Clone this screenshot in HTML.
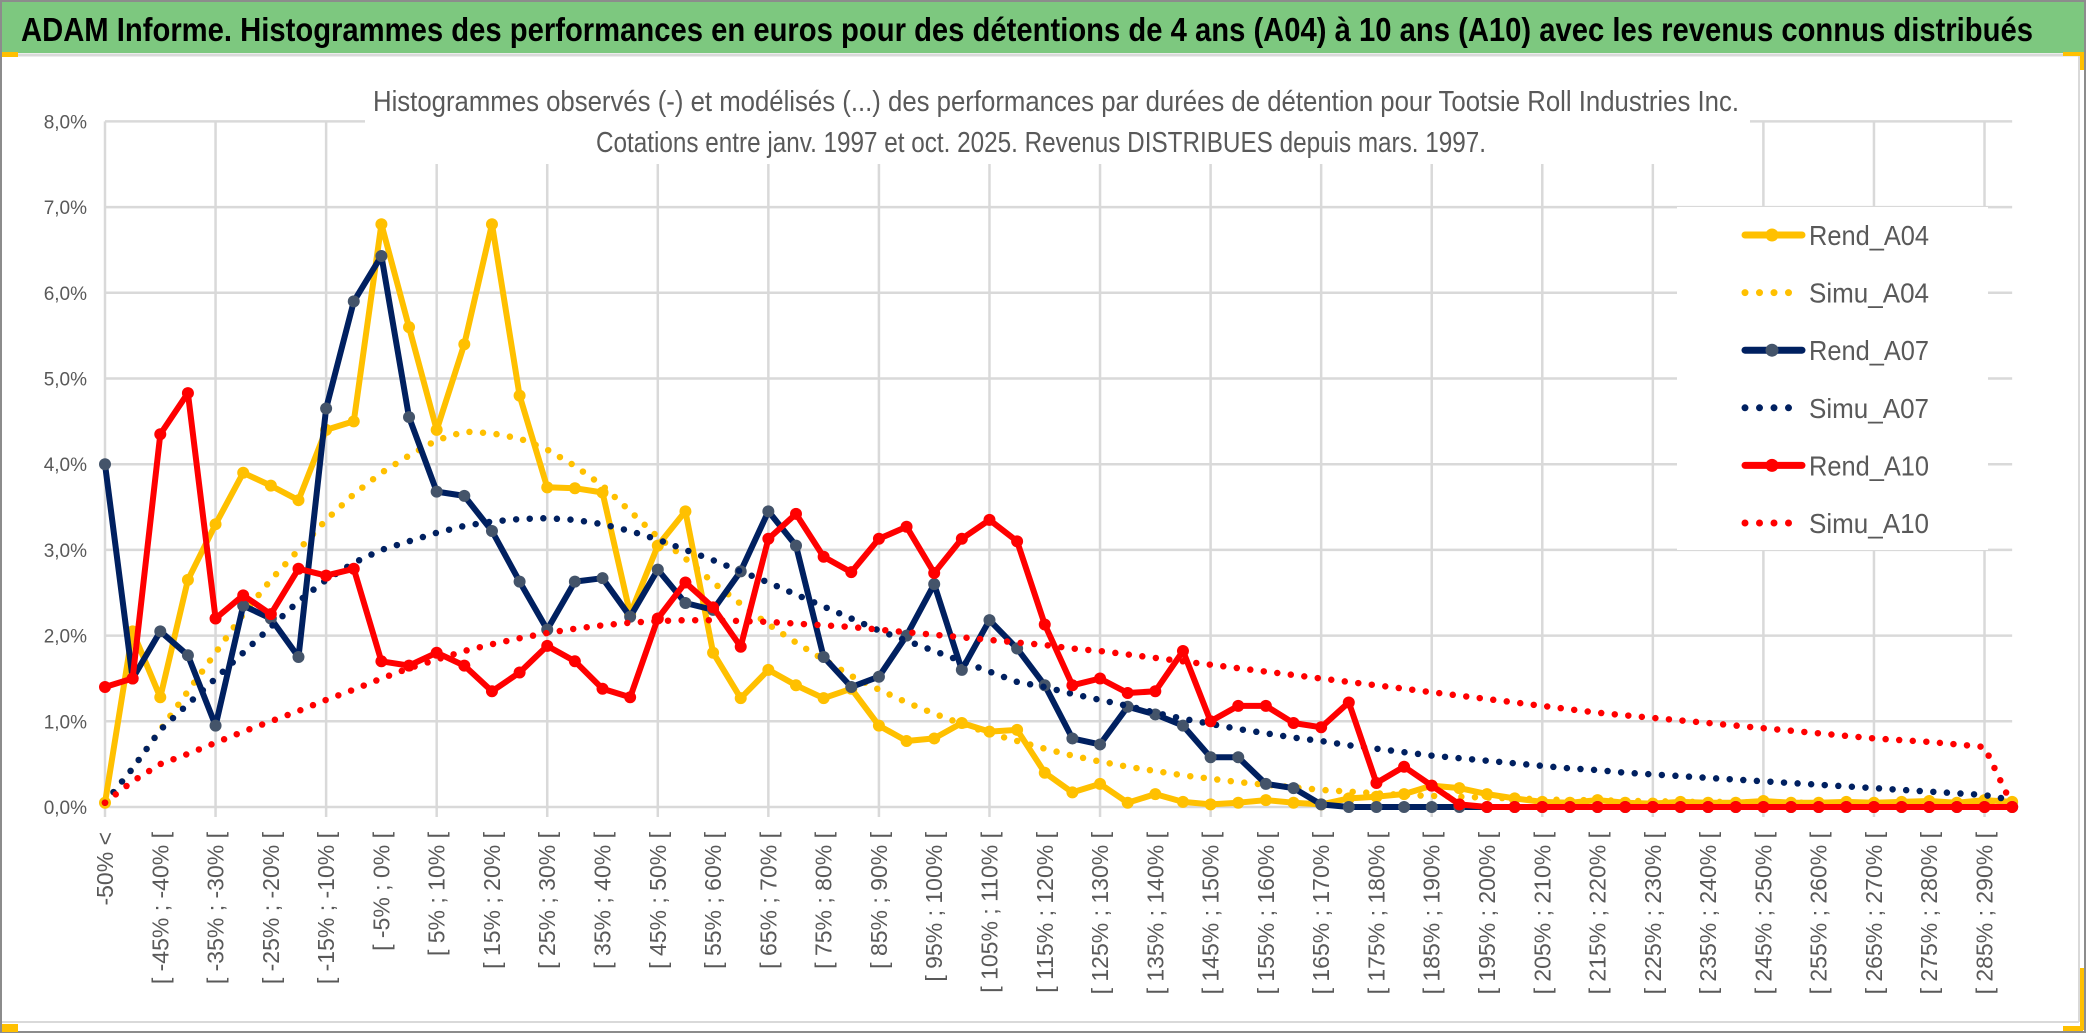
<!DOCTYPE html>
<html><head><meta charset="utf-8"><style>
html,body{margin:0;padding:0;background:#fff;}
svg{display:block;}
</style></head><body>
<svg id="chart" width="2086" height="1033" viewBox="0 0 2086 1033" xmlns="http://www.w3.org/2000/svg" font-family="'Liberation Sans', sans-serif">
<rect x="0" y="0" width="2086" height="1033" fill="#fff"/>
<rect x="1" y="1" width="2084" height="1031" fill="none" stroke="#8c8c8c" stroke-width="2"/>
<rect x="2" y="2" width="2082" height="51" fill="#7dc87f"/>
<line x1="2" y1="55" x2="2080" y2="55" stroke="#d9d9d9" stroke-width="3"/>
<rect x="2" y="52" width="16" height="5" fill="#ffc000"/>
<rect x="2063" y="52" width="20" height="4" fill="#ffc000"/>
<rect x="2080" y="52" width="4" height="18" fill="#ffc000"/>
<rect x="2" y="1024" width="16" height="8" fill="#ffc000"/>
<rect x="2063" y="1026" width="20" height="5" fill="#ffc000"/>
<rect x="2080" y="968" width="4" height="62" fill="#ffc000"/>
<line x1="2079" y1="56" x2="2079" y2="1022" stroke="#d9d9d9" stroke-width="2"/>
<line x1="2" y1="1022" x2="2079" y2="1022" stroke="#d9d9d9" stroke-width="2"/>
<text x="21" y="41" font-size="33" font-weight="bold" fill="#000" textLength="2012" lengthAdjust="spacingAndGlyphs">ADAM Informe. Histogrammes des performances en euros pour des détentions de 4 ans (A04) à 10 ans (A10) avec les revenus connus distribués</text>
<g id="grid"></g>
<rect x="365" y="62" width="1385" height="102" fill="#fff"/>
<text x="373" y="111" font-size="29" fill="#595959" textLength="1366" lengthAdjust="spacingAndGlyphs">Histogrammes observés (-) et modélisés (...) des performances par durées de détention pour Tootsie Roll Industries Inc.</text>
<text x="596" y="152" font-size="29" fill="#595959" textLength="890" lengthAdjust="spacingAndGlyphs">Cotations entre janv. 1997 et oct. 2025. Revenus DISTRIBUES depuis mars. 1997.</text>
<g id="yaxis"></g>
<g id="xaxis"></g>
<g id="series"></g>
<g id="legend"></g>
</svg>
<script>
const categories = ["-50% <"];
for (let i = 1; i < 69; i++) { const a = -55 + 5 * i; categories.push("[ " + a + "% ; " + (a + 5) + "% ["); }
categories.push(">= 290%");
const yTicks = ["0,0%","1,0%","2,0%","3,0%","4,0%","5,0%","6,0%","7,0%","8,0%"];
const rendA04 = [0.05,2.05,1.28,2.65,3.3,3.9,3.75,3.58,4.4,4.5,6.8,5.6,4.4,5.4,6.8,4.8,3.73,3.72,3.67,2.25,3.05,3.45,1.8,1.27,1.6,1.42,1.27,1.38,0.95,0.77,0.8,0.98,0.88,0.9,0.4,0.17,0.27,0.05,0.15,0.06,0.03,0.05,0.08,0.05,0.03,0.1,0.12,0.15,0.25,0.22,0.15,0.1,0.06,0.05,0.08,0.05,0.04,0.06,0.05,0.05,0.07,0.05,0.05,0.06,0.05,0.06,0.07,0.05,0.08,0.06];
const simuA04 = [0.05,0.45,0.9,1.35,1.8,2.25,2.65,3.0,3.35,3.65,3.9,4.1,4.28,4.38,4.36,4.3,4.17,3.98,3.75,3.45,3.15,2.9,2.62,2.37,2.13,1.92,1.72,1.53,1.37,1.22,1.09,0.97,0.86,0.77,0.68,0.6,0.53,0.47,0.42,0.37,0.33,0.29,0.26,0.23,0.2,0.18,0.16,0.14,0.13,0.12,0.11,0.1,0.09,0.08,0.08,0.07,0.07,0.06,0.06,0.06,0.05,0.05,0.05,0.05,0.05,0.05,0.05,0.05,0.05,0.05];
const rendA07 = [4.0,1.5,2.05,1.77,0.95,2.35,2.2,1.75,4.65,5.9,6.43,4.55,3.68,3.63,3.22,2.63,2.07,2.63,2.67,2.22,2.77,2.38,2.3,2.75,3.45,3.05,1.75,1.4,1.52,2.0,2.6,1.6,2.18,1.85,1.42,0.8,0.73,1.17,1.08,0.95,0.58,0.58,0.27,0.22,0.03,0,0,0,0,0,0,0,0,0,0,0,0,0,0,0,0,0,0,0,0,0,0,0,0,0];
const simuA07 = [0.05,0.45,0.9,1.2,1.5,1.8,2.1,2.4,2.65,2.85,3.0,3.1,3.2,3.28,3.33,3.36,3.37,3.35,3.3,3.22,3.12,3.0,2.88,2.75,2.62,2.48,2.34,2.2,2.06,1.94,1.82,1.7,1.58,1.46,1.4,1.32,1.25,1.18,1.1,1.03,0.97,0.91,0.86,0.81,0.77,0.72,0.68,0.64,0.6,0.57,0.54,0.51,0.48,0.45,0.43,0.4,0.38,0.36,0.34,0.32,0.3,0.28,0.26,0.24,0.22,0.2,0.18,0.16,0.14,0.08];
const rendA10 = [1.4,1.5,4.35,4.83,2.2,2.47,2.25,2.78,2.7,2.78,1.7,1.65,1.8,1.65,1.35,1.57,1.88,1.7,1.38,1.28,2.2,2.62,2.33,1.87,3.13,3.42,2.92,2.74,3.13,3.27,2.73,3.13,3.35,3.1,2.13,1.42,1.5,1.33,1.35,1.82,1.0,1.18,1.18,0.98,0.93,1.22,0.28,0.47,0.25,0.03,0,0,0,0,0,0,0,0,0,0,0,0,0,0,0,0,0,0,0,0];
const simuA10 = [0.05,0.3,0.5,0.62,0.75,0.88,1.0,1.12,1.25,1.37,1.5,1.62,1.72,1.82,1.9,1.97,2.03,2.08,2.12,2.15,2.17,2.18,2.18,2.17,2.16,2.14,2.12,2.1,2.07,2.04,2.01,1.98,1.95,1.92,1.89,1.85,1.82,1.78,1.74,1.7,1.66,1.62,1.58,1.54,1.5,1.46,1.42,1.38,1.34,1.3,1.26,1.22,1.18,1.14,1.1,1.07,1.04,1.01,0.98,0.95,0.92,0.89,0.86,0.83,0.8,0.78,0.76,0.73,0.7,0.02];

const NS = "http://www.w3.org/2000/svg";
const X0 = 105, DX = 27.64, Y0 = 807, DY = 85.7;
function xs(i){ return X0 + i * DX; }
function ys(v){ return Y0 - v * DY; }
function mk(tag, attrs, parent){ const e = document.createElementNS(NS, tag); for (const k in attrs) e.setAttribute(k, attrs[k]); parent.appendChild(e); return e; }

const grid = document.getElementById('grid');
const xEnd = xs(categories.length - 1);
for (let t = 0; t < yTicks.length; t++) {
  const l = mk('line', {x1: X0, x2: xEnd, y1: ys(t), y2: ys(t), stroke: '#d9d9d9', 'stroke-width': 2.5}, grid);
  
  
}
for (let i = 0; i < categories.length; i += 4) {
  const l = mk('line', {x1: xs(i), x2: xs(i), y1: ys(8), y2: Y0 + 10, stroke: '#d9d9d9', 'stroke-width': 2.5}, grid);
  
  
}
const yaxis = document.getElementById('yaxis');
for (let t = 0; t < yTicks.length; t++) {
  const tx = mk('text', {x: 87, y: ys(t) + 7, 'font-size': 19, fill: '#595959', 'text-anchor': 'end'}, yaxis);
  tx.textContent = yTicks[t];
  
  
}
const xaxis = document.getElementById('xaxis');
for (let i = 0; i < categories.length - 1; i += 2) {
  const cx = xs(i) + 8, cy = 832;
  const tx = mk('text', {x: cx, y: cy, 'font-size': 23, fill: '#595959', 'text-anchor': 'end', transform: 'rotate(-90 ' + cx + ' ' + cy + ')'}, xaxis);
  tx.textContent = categories[i];
  
  
}
const series = document.getElementById('series');
function pts(arr){ return arr.map((v, i) => xs(i).toFixed(1) + ',' + ys(v).toFixed(1)).join(' '); }
function solid(arr, color, mcolor, name){
  const g = mk('g', {}, series);
  
  
  mk('polyline', {points: pts(arr), fill: 'none', stroke: color, 'stroke-width': 6, 'stroke-linejoin': 'round', 'stroke-linecap': 'round'}, g);
  arr.forEach((v, i) => {
    const c = mk('circle', {cx: xs(i), cy: ys(v), r: 6, fill: mcolor}, g);
    
    
  });
}
function dotted(arr, color, name){
  const p = mk('polyline', {points: pts(arr), fill: 'none', stroke: color, 'stroke-width': 6.5, 'stroke-linecap': 'round', 'stroke-dasharray': '0 13.6'}, series);
  
  
}
solid(rendA04, '#ffc000', '#ffc000', 'series-rend-a04');
dotted(simuA04, '#ffc000', 'series-simu-a04');
solid(rendA07, '#002060', '#44546a', 'series-rend-a07');
dotted(simuA07, '#002060', 'series-simu-a07');
solid(rendA10, '#ff0000', '#ff0000', 'series-rend-a10');
dotted(simuA10, '#ff0000', 'series-simu-a10');

const legend = document.getElementById('legend');
const bg = mk('rect', {x: 1677, y: 207, width: 311, height: 343, fill: '#fff'}, legend);


const legNames = ["Rend_A04","Simu_A04","Rend_A07","Simu_A07","Rend_A10","Simu_A10"];
const legColors = ["#ffc000","#ffc000","#002060","#002060","#ff0000","#ff0000"];
const legMarkers = ["#ffc000",null,"#44546a",null,"#ff0000",null];
legNames.forEach((n, j) => {
  const y = 235 + j * 57.6;
  const g = mk('g', {}, legend);
  
  
  if (legMarkers[j]) {
    mk('line', {x1: 1745, x2: 1802, y1: y, y2: y, stroke: legColors[j], 'stroke-width': 7, 'stroke-linecap': 'round'}, g);
    mk('circle', {cx: 1772, cy: y, r: 6.5, fill: legMarkers[j]}, g);
  } else {
    mk('line', {x1: 1745, x2: 1802, y1: y, y2: y, stroke: legColors[j], 'stroke-width': 7, 'stroke-linecap': 'round', 'stroke-dasharray': '0 14.5'}, g);
  }
  const t = mk('text', {x: 1809, y: y + 10, 'font-size': 28, fill: '#595959', textLength: 120, lengthAdjust: 'spacingAndGlyphs'}, g);
  t.textContent = n;
});
</script>
</body></html>
